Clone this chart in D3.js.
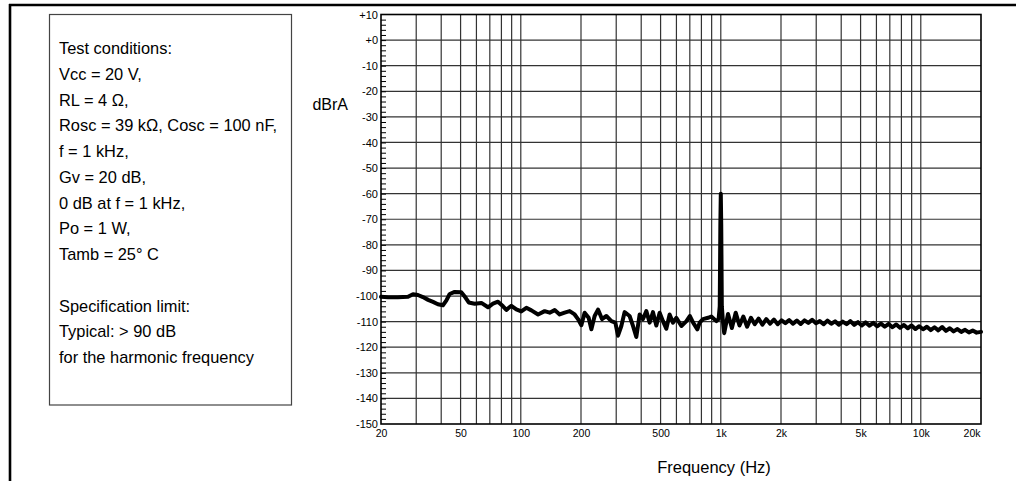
<!DOCTYPE html>
<html><head><meta charset="utf-8">
<script src="https://cdn.jsdelivr.net/npm/d3@7/dist/d3.min.js"></script>
<style>body{margin:0;background:#fff}svg{display:block}</style>
</head><body><svg id="c" width="1016" height="481"></svg>
<script>
// ---- data ----
const freqs = [20,21.7,24.3,27.3,28.9,30.6,32.4,34.4,36.4,38.5,40.8,42.4,44.1,46.7,50.4,52.8,54.9,58.8,63.5,68.6,72.6,76.9,81.5,84.7,89.7,95,100.6,106.6,113,122,131.6,139.4,147.7,156.4,165.7,175.5,185.9,193.2,200.8,208.5,218.4,225.4,234,243.3,254.7,267.8,283.7,297,306.2,318.2,330.4,350,363.9,378.1,392.9,408.3,424.3,440.8,458.1,476,494.6,514,534,554.9,576.7,599.3,635.3,673.4,699.8,727.2,763.6,784,814.8,863,896.5,950.6,
  975,988,995,1000,1005,1012,1025,
  1040,1087,1136,1187,1240,1296,1354,1415,1479,1545,1615,1688,1764,1843,1926,2013,2103,2198,2297,2400,2508,2621,2739,2862,2991,3126,3266,3413,3567,3727,3895,4070,4254,4445,4645,4854,5073,5301,5540,5789,6050,6322,6606,6904,7214,7539,7878,8233,8603,8990,9395,9818,10260,10722,11204,11708,12235,12786,13361,13963,14591,15248,15934,16651,17400,18183,19002,20000];
const dbra = [-100.3,-100.5,-100.5,-100.3,-99.3,-99.6,-100.4,-101.5,-102.3,-103.2,-103.6,-101.8,-99.2,-98.4,-98.5,-100.5,-102.5,-103,-102.7,-104.4,-103,-102.2,-104,-105.4,-103.8,-105.2,-106,-104.6,-105.6,-107.2,-105.9,-106.5,-105.5,-107.2,-106.5,-105.9,-107.2,-109,-111.4,-106.5,-108.5,-113,-107.8,-105.3,-109,-107.8,-109.8,-110.4,-115.5,-111.7,-106.3,-107.8,-111.7,-116,-107.2,-109,-105.9,-110.4,-106.3,-111.5,-106.5,-109.8,-112.8,-107.2,-110.4,-108.5,-111.7,-109.8,-107.8,-110.4,-113,-110.4,-109,-108.5,-108,-109.8,
  -109,-104,-72,-60,-72,-104,-110,
  -114.5,-107,-112.5,-106.5,-111.5,-108,-112,-108.5,-111,-108.8,-111.2,-109,-110.8,-109.2,-111,-109.5,-110.6,-109.4,-110.8,-109.6,-110.9,-109.5,-110.5,-109.3,-110.6,-109.8,-111,-109.6,-110.8,-109.9,-111.2,-110,-111,-109.8,-111.3,-110.2,-111.5,-110.3,-111.6,-110.5,-111.8,-110.8,-112,-110.9,-112.2,-111.1,-112.4,-111.3,-112.6,-111.5,-112.9,-111.8,-113,-112,-113.3,-112.2,-113.4,-112.1,-113.6,-112.6,-113.8,-112.9,-114,-113.2,-114.2,-113.5,-114.3,-114];
const xTickValues = [20,50,100,200,500,1000,2000,5000,10000,20000];
const xTickLabels = ["20","50","100","200","500","1k","2k","5k","10k","20k"];
const xGridValues = [30,40,50,60,70,80,90,100,200,300,400,500,600,700,800,900,1000,2000,3000,4000,5000,6000,7000,8000,9000,10000];
const yTickValues = [10,0,-10,-20,-30,-40,-50,-60,-70,-80,-90,-100,-110,-120,-130,-140,-150];
const yTickLabels = ["+10","+0","-10","-20","-30","-40","-50","-60","-70","-80","-90","-100","-110","-120","-130","-140","-150"];
const conditionLines = ["Test conditions:","Vcc = 20 V,","RL = 4 \u03A9,","Rosc = 39 k\u03A9, Cosc = 100 nF,","f = 1 kHz,","Gv = 20 dB,","0 dB at f = 1 kHz,","Po = 1 W,","Tamb = 25\u00B0 C"];
const limitLines = ["Specification limit:","Typical: > 90 dB","for the harmonic frequency"];

// ---- layout ----
const FONT = "'Liberation Sans', Arial, Helvetica, sans-serif";
const L = 381, R = 981, T = 14.5, B = 424;
const svg = d3.select("#c");
svg.append("rect").attr("width",1016).attr("height",481).attr("fill","#fff");

const x = d3.scaleLog().domain([20,20000]).range([L,R]);
const y = d3.scaleLinear().domain([-150,10]).range([B,T]);

// outer figure frame lines
svg.append("line").attr("x1",9).attr("x2",1016).attr("y1",5).attr("y2",5).attr("stroke","#000").attr("stroke-width",2.6);
svg.append("line").attr("x1",10).attr("x2",10).attr("y1",4).attr("y2",481).attr("stroke","#000").attr("stroke-width",2.6);

// conditions box
svg.append("rect").attr("x",49.5).attr("y",14.5).attr("width",242).attr("height",390.5)
  .attr("fill","none").attr("stroke","#444").attr("stroke-width",1.2);
const tb = svg.append("g").attr("font-family",FONT).attr("font-size",16.4).attr("fill","#000");
conditionLines.forEach((s,i)=>tb.append("text").attr("x",59).attr("y",54+i*25.75).text(s));
limitLines.forEach((s,i)=>tb.append("text").attr("x",59).attr("y",311.5+i*25.75).text(s));

// grid
const g = svg.append("g");
g.selectAll(".vg").data(xGridValues).join("line")
  .attr("x1",d=>x(d)).attr("x2",d=>x(d)).attr("y1",T).attr("y2",B)
  .attr("stroke","#333").attr("stroke-width",1.2);
g.selectAll(".hg").data(yTickValues.filter(v=>v<10&&v>-150)).join("line")
  .attr("x1",L).attr("x2",R).attr("y1",d=>y(d)).attr("y2",d=>y(d))
  .attr("stroke","#333").attr("stroke-width",1.2);

// minor y ticks (inside)
const minor = d3.axisRight(y).tickValues(d3.range(-148,10,2)).tickSize(5).tickFormat("");
const mg = svg.append("g").attr("transform",`translate(${L},0)`).call(minor);
mg.select(".domain").remove();
mg.selectAll("line").attr("stroke","#000").attr("stroke-width",1);

// y axis labels
const ya = d3.axisLeft(y).tickValues(yTickValues).tickSize(0).tickPadding(3)
  .tickFormat((d,i)=>yTickLabels[i]);
const yg = svg.append("g").attr("transform",`translate(${L},0)`).call(ya);
yg.select(".domain").remove();
yg.selectAll("text").attr("font-family",FONT).attr("font-size",11).attr("fill","#000");

// x axis labels
const xa = d3.axisBottom(x).tickValues(xTickValues).tickSize(0).tickPadding(6)
  .tickFormat((d,i)=>xTickLabels[i]);
const xg = svg.append("g").attr("transform",`translate(0,${B})`).call(xa);
xg.select(".domain").remove();
xg.selectAll("text").attr("font-family",FONT).attr("font-size",10.5).attr("fill","#000");
xg.selectAll(".tick").filter(d=>d===20000).select("text").attr("text-anchor","end").attr("dx","-1");

// frame
svg.append("rect").attr("x",L).attr("y",T).attr("width",R-L).attr("height",B-T)
  .attr("fill","none").attr("stroke","#000").attr("stroke-width",1.6);

// curve
const pts = freqs.map((f,i)=>[f,dbra[i]]);
svg.append("path").datum(pts)
  .attr("d",d3.line().x(d=>x(d[0])).y(d=>y(d[1])))
  .attr("fill","none").attr("stroke","#000").attr("stroke-width",4)
  .attr("stroke-linejoin","round").attr("stroke-linecap","round");

// axis titles
svg.append("text").attr("x",348).attr("y",110).attr("text-anchor","end")
  .attr("font-family",FONT).attr("font-size",16).text("dBrA");
svg.append("text").attr("x",714).attr("y",473).attr("text-anchor","middle")
  .attr("font-family",FONT).attr("font-size",16.5).text("Frequency (Hz)");
</script></body></html>
